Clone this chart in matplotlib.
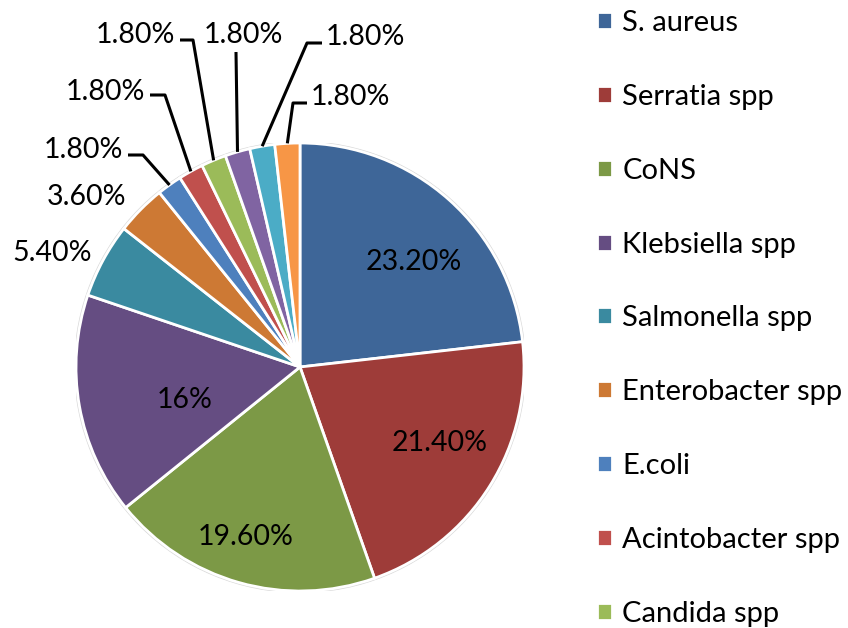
"""Distribution of isolated organisms as a pie chart with leader-line labels."""

import matplotlib.pyplot as plt
import numpy as np

FIG_W_PX = 848
FIG_H_PX = 628
PIE_CX_PX = 300
PIE_CY_PX = 367
PIE_R_PX = 224
FONT = "Lato"
LABEL_PT = 20.5
LEGEND_PT = 21

organisms = [
    "S. aureus", "Serratia spp", "CoNS", "Klebsiella spp",
    "Salmonella spp", "Enterobacter spp", "E.coli", "Acintobacter spp",
    "Candida spp", "", "", "",
]
shares = [23.2, 21.4, 19.6, 16.0, 5.4, 3.6, 1.8, 1.8, 1.8, 1.8, 1.8, 1.8]
pct_labels = [
    "23.20%", "21.40%", "19.60%", "16%", "5.40%", "3.60%",
    "1.80%", "1.80%", "1.80%", "1.80%", "1.80%", "1.80%",
]
colors = [
    "#3E6698", "#9E3C39", "#7C9946", "#654D82", "#3A8AA0", "#CD7934",
    "#4E80BD", "#C0504D", "#9BBB59", "#8064A2", "#4BACC6", "#F79646",
]
N_LEGEND = 9

# label centres (pixels) and leader-line points before the wedge edge
label_px = [
    (414, 262), (440, 443), (246, 537), (185, 400), (52, 253), (87, 197),
    (83, 150), (105, 92), (135, 35), (243, 35), (365, 37), (350, 97),
]
leader_px = {
    6: [(128, 155), (143, 155)],
    7: [(150, 95), (165, 95)],
    8: [(180, 40), (193, 40)],
    9: [(236, 52)],
    10: [(322, 43), (307, 43)],
    11: [(307, 103), (293, 103)],
}


def to_data(px, py):
    return (px - PIE_CX_PX) / PIE_R_PX, (PIE_CY_PX - py) / PIE_R_PX


fig = plt.figure(figsize=(FIG_W_PX / 100, FIG_H_PX / 100), dpi=100)
ax = fig.add_axes([
    (PIE_CX_PX - PIE_R_PX) / FIG_W_PX,
    (FIG_H_PX - PIE_CY_PX - PIE_R_PX) / FIG_H_PX,
    2 * PIE_R_PX / FIG_W_PX,
    2 * PIE_R_PX / FIG_H_PX,
])

# faint outer rim
ax.add_patch(plt.Circle((0, 0), 1.006, color="#D9D9D9", zorder=0))
wedges, _ = ax.pie(
    shares,
    colors=colors,
    startangle=90,
    counterclock=False,
    radius=1,
    wedgeprops=dict(edgecolor="white", linewidth=2.0),
)
ax.set_xlim(-1, 1)
ax.set_ylim(-1, 1)
ax.set_aspect("equal")
ax.axis("off")

for i, (w, txt) in enumerate(zip(wedges, pct_labels)):
    x, y = to_data(*label_px[i])
    ax.text(x, y, txt, ha="center", va="center", fontsize=LABEL_PT,
            family=FONT, color="black", clip_on=False)
    if i in leader_px:
        mid = np.deg2rad(0.5 * (w.theta1 + w.theta2))
        pts = [to_data(*p) for p in leader_px[i]]
        pts.append((np.cos(mid), np.sin(mid)))
        xs, ys = zip(*pts)
        ax.plot(xs, ys, color="black", lw=2.2, clip_on=False,
                solid_capstyle="butt")

fig.legend(
    wedges[:N_LEGEND],
    organisms[:N_LEGEND],
    loc="upper left",
    bbox_to_anchor=(597 / FIG_W_PX, 1 - 10 / FIG_H_PX),
    frameon=False,
    prop={"family": FONT, "size": LEGEND_PT},
    handlelength=0.52,
    handleheight=0.52,
    handletextpad=0.35,
    labelspacing=1.64,
    borderpad=0,
    borderaxespad=0,
)

fig.savefig("out.png", dpi=100)
